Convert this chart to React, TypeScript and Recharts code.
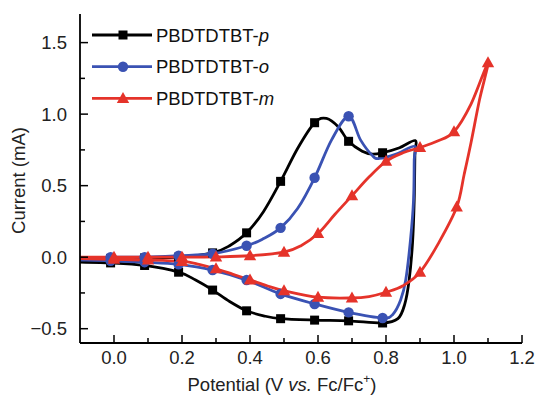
import React from "react";
import { LineChart, Line, XAxis, YAxis, Legend } from "recharts";

// [potential (V vs. Fc/Fc+), current (mA), symbol on this point?]
const curveP: [number, number, number][] = [
  [-0.1, -0.02, 0], [-0.01, -0.01, 1], [0.09, -0.005, 1], [0.19, 0.0, 1], [0.29, 0.03, 1],
  [0.34, 0.08, 0], [0.39, 0.17, 1], [0.44, 0.32, 0], [0.49, 0.53, 1], [0.54, 0.76, 0],
  [0.59, 0.94, 1], [0.625, 0.97, 0], [0.66, 0.91, 0], [0.69, 0.81, 1], [0.73, 0.74, 0],
  [0.76, 0.72, 0], [0.79, 0.73, 1], [0.84, 0.765, 0], [0.886, 0.815, 0], [0.885, 0.72, 0],
  [0.883, 0.4, 0], [0.878, 0.1, 0], [0.868, -0.16, 0], [0.855, -0.33, 0], [0.835, -0.43, 0],
  [0.79, -0.46, 1], [0.69, -0.445, 1], [0.59, -0.44, 1], [0.49, -0.43, 1], [0.44, -0.41, 0],
  [0.39, -0.375, 1], [0.34, -0.31, 0], [0.29, -0.23, 1], [0.24, -0.16, 0], [0.19, -0.105, 1],
  [0.09, -0.058, 1], [-0.01, -0.04, 1], [-0.1, -0.035, 0],
];

const curveO: [number, number, number][] = [
  [-0.1, -0.01, 0], [-0.01, 0.0, 1], [0.09, 0.0, 1], [0.19, 0.01, 1], [0.29, 0.024, 1],
  [0.39, 0.08, 1], [0.44, 0.13, 0], [0.49, 0.205, 1], [0.54, 0.34, 0], [0.59, 0.555, 1],
  [0.64, 0.82, 0], [0.69, 0.985, 1], [0.725, 0.82, 0], [0.76, 0.71, 0], [0.78, 0.69, 0],
  [0.83, 0.72, 0], [0.884, 0.775, 0], [0.883, 0.68, 0], [0.881, 0.4, 0], [0.872, 0.12, 0],
  [0.858, -0.16, 0], [0.843, -0.3, 0], [0.82, -0.4, 0], [0.79, -0.425, 1], [0.69, -0.386, 1],
  [0.59, -0.327, 1], [0.49, -0.257, 1], [0.39, -0.16, 1], [0.29, -0.09, 1], [0.19, -0.05, 1],
  [0.09, -0.035, 1], [-0.01, -0.025, 1], [-0.1, -0.02, 0],
];

const curveM: [number, number, number][] = [
  [-0.1, 0.0, 0], [0.0, 0.0, 1], [0.1, 0.0, 1], [0.2, 0.0, 1], [0.3, 0.002, 1],
  [0.4, 0.01, 1], [0.5, 0.035, 1], [0.55, 0.08, 0], [0.6, 0.165, 1], [0.65, 0.3, 0],
  [0.7, 0.43, 1], [0.75, 0.56, 0], [0.8, 0.67, 1], [0.85, 0.73, 0], [0.9, 0.767, 1],
  [0.95, 0.81, 0], [1.0, 0.877, 1], [1.05, 1.07, 0], [1.1, 1.36, 1], [1.075, 1.1, 0],
  [1.05, 0.8, 0], [1.03, 0.58, 0], [1.008, 0.35, 1], [0.955, 0.1, 0], [0.9, -0.105, 1],
  [0.85, -0.2, 0], [0.8, -0.245, 1], [0.75, -0.275, 0], [0.7, -0.285, 1], [0.6, -0.28, 1],
  [0.5, -0.234, 1], [0.45, -0.2, 0], [0.4, -0.159, 1], [0.35, -0.12, 0], [0.3, -0.081, 1],
  [0.25, -0.05, 0], [0.2, -0.03, 1], [0.1, -0.02, 1], [0.0, -0.015, 1], [-0.1, -0.01, 0],
];

const seriesNames = ["PBDTDTBT-p", "PBDTDTBT-o", "PBDTDTBT-m"];
const seriesColors = ["#000000", "#3a52b3", "#e5332a"];
const seriesShapes = ["square", "circle", "triangle"];

const xMajor = [0, 0.2, 0.4, 0.6, 0.8, 1.0, 1.2];
const xMinor = [0.1, 0.3, 0.5, 0.7, 0.9, 1.1];
const yMajor = [-0.5, 0, 0.5, 1.0, 1.5];
const yMinor = [-0.25, 0.25, 0.75, 1.25];

const FONT = "'Liberation Sans', Arial, sans-serif";
const FS = 18.5;

const toRows = (c: [number, number, number][]) => c.map(([v, i, m]) => ({ v, i, m }));
const seriesData = [toRows(curveP), toRows(curveO), toRows(curveM)];

const xTicks = [...xMajor, ...xMinor].sort((a, b) => a - b);
const yTicks = [...yMajor, ...yMinor].sort((a, b) => a - b);
const isIn = (list: number[], v: number) => list.some((t) => Math.abs(t - v) < 1e-6);
const fmt = (v: number) => (v < 0 ? "\u2212" : "") + Math.abs(v).toFixed(1);

// Catmull-Rom through every point, works for closed CV loops
function catmullRom(context: any) {
  let pts: number[][] = [];
  return {
    areaStart() {},
    areaEnd() {},
    lineStart() {
      pts = [];
    },
    point(x: number, y: number) {
      pts.push([+x, +y]);
    },
    lineEnd() {
      if (!pts.length) return;
      context.moveTo(pts[0][0], pts[0][1]);
      for (let k = 0; k < pts.length - 1; k++) {
        const p0 = pts[k - 1] || pts[k];
        const p1 = pts[k];
        const p2 = pts[k + 1];
        const p3 = pts[k + 2] || p2;
        context.bezierCurveTo(
          p1[0] + (p2[0] - p0[0]) / 6,
          p1[1] + (p2[1] - p0[1]) / 6,
          p2[0] - (p3[0] - p1[0]) / 6,
          p2[1] - (p3[1] - p1[1]) / 6,
          p2[0],
          p2[1]
        );
      }
    },
  };
}

function Marker({ shape, x, y, color }: { shape: string; x: number; y: number; color: string }) {
  if (shape === "square") return <rect x={x - 4.5} y={y - 4.5} width={9} height={9} fill={color} />;
  if (shape === "circle") return <circle cx={x} cy={y} r={5.2} fill={color} />;
  return <polygon points={`${x},${y - 6.5} ${x + 6.2},${y + 4.5} ${x - 6.2},${y + 4.5}`} fill={color} />;
}

const makeDot = (k: number) => (props: any) => {
  const { cx, cy, payload, index } = props;
  if (!payload || !payload.m) return <g key={`d${k}-${index}`} />;
  return (
    <g key={`d${k}-${index}`}>
      <Marker shape={seriesShapes[k]} x={cx} y={cy} color={seriesColors[k]} />
    </g>
  );
};

const BottomTick = (props: any) => {
  const { x, y, payload } = props;
  const major = isIn(xMajor, payload.value);
  return (
    <g>
      <line x1={x} x2={x} y1={y} y2={y - (major ? 8 : 5)} stroke="#000" strokeWidth={1.5} />
      {major && (
        <text x={x} y={y + 20.5} textAnchor="middle" fontSize={FS} fontFamily={FONT} fill="#222">
          {fmt(payload.value)}
        </text>
      )}
    </g>
  );
};

const LeftTick = (props: any) => {
  const { x, y, payload } = props;
  const major = isIn(yMajor, payload.value);
  return (
    <g>
      <line x1={x} x2={x + (major ? 8 : 5)} y1={y} y2={y} stroke="#000" strokeWidth={1.5} />
      {major && (
        <text x={x - 13} y={y + 6.5} textAnchor="end" fontSize={FS} fontFamily={FONT} fill="#222">
          {fmt(payload.value)}
        </text>
      )}
    </g>
  );
};

const TopTick = (props: any) => {
  const { x, y } = props;
  return <line x1={x} x2={x} y1={y} y2={y - 2} stroke="#000" strokeWidth={1.5} />;
};

const RightTick = (props: any) => {
  const { x, y } = props;
  return <line x1={x} x2={x + 2} y1={y} y2={y} stroke="#000" strokeWidth={1.5} />;
};

const XTitle = (props: any) => {
  const vb = props.viewBox;
  const cx = vb.x + vb.width / 2 - 19;
  return (
    <text x={cx} y={vb.y + 48} textAnchor="middle" fontSize={FS} fontFamily={FONT} fill="#222">
      Potential (V <tspan fontStyle="italic">vs.</tspan> Fc/Fc
      <tspan fontSize={12} dy={-8}>+</tspan>
      <tspan dy={8}>)</tspan>
    </text>
  );
};

const YTitle = (props: any) => {
  const vb = props.viewBox;
  const cy = vb.y + vb.height / 2 + 2;
  const x = 25;
  return (
    <text x={x} y={cy} transform={`rotate(-90, ${x}, ${cy})`} textAnchor="middle" fontSize={FS} fontFamily={FONT} fill="#222">
      Current (mA)
    </text>
  );
};

const renderLegend = () => (
  <svg width={320} height={120} style={{ display: "block" }}>
    {seriesNames.map((name, k) => {
      const y = 35 + k * 31.7;
      const dash = name.lastIndexOf("-");
      return (
        <g key={name}>
          <line x1={92} x2={152} y1={y} y2={y} stroke={seriesColors[k]} strokeWidth={2.8} />
          <Marker shape={seriesShapes[k]} x={123} y={y} color={seriesColors[k]} />
          <text x={156} y={y + 6.6} fontSize={FS} fontFamily={FONT} fill="#111">
            {name.slice(0, dash + 1)}
            <tspan fontStyle="italic">{name.slice(dash + 1)}</tspan>
          </text>
        </g>
      );
    })}
  </svg>
);

export default function App() {
  return (
    <div style={{ position: "absolute", left: 0, top: 0, width: 535, height: 396, background: "#fff" }}>
      <LineChart width={535} height={396} margin={{ top: 14, right: 13, bottom: 0, left: 0 }}>
        <XAxis
          type="number"
          dataKey="v"
          domain={[-0.1, 1.2]}
          ticks={xTicks}
          interval={0}
          allowDataOverflow
          height={53}
          tickSize={0}
          tickMargin={0}
          tick={<BottomTick />}
          tickLine={false}
          axisLine={{ stroke: "#000", strokeWidth: 1.8 }}
          label={XTitle}
        />
        <XAxis
          xAxisId="top"
          orientation="top"
          type="number"
          domain={[-0.1, 1.2]}
          ticks={xTicks}
          interval={0}
          allowDataOverflow
          height={0}
          tickSize={0}
          tickMargin={0}
          tick={<TopTick />}
          tickLine={false}
          axisLine={{ stroke: "#000", strokeWidth: 1.8 }}
        />
        <YAxis
          type="number"
          domain={[-0.6, 1.7]}
          ticks={yTicks}
          interval={0}
          allowDataOverflow
          width={80}
          tickSize={0}
          tickMargin={0}
          tick={<LeftTick />}
          tickLine={false}
          axisLine={{ stroke: "#000", strokeWidth: 1.8 }}
          label={YTitle}
        />
        <YAxis
          yAxisId="right"
          orientation="right"
          type="number"
          domain={[-0.6, 1.7]}
          ticks={yTicks}
          interval={0}
          allowDataOverflow
          width={0}
          tickSize={0}
          tickMargin={0}
          tick={<RightTick />}
          tickLine={false}
          axisLine={{ stroke: "#000", strokeWidth: 1.8 }}
        />
        <Legend
          layout="vertical"
          align="center"
          verticalAlign="middle"
          content={renderLegend}
          wrapperStyle={{ position: "absolute", left: 0, top: 0, width: 320, height: 120 }}
        />
        {seriesData.map((rows, k) => (
          <Line
            key={seriesNames[k]}
            name={seriesNames[k]}
            data={rows}
            dataKey="i"
            type={catmullRom as any}
            stroke={seriesColors[k]}
            strokeWidth={2.8}
            strokeLinejoin="round"
            dot={makeDot(k)}
            activeDot={false}
            isAnimationActive={false}
          />
        ))}
      </LineChart>
    </div>
  );
}
